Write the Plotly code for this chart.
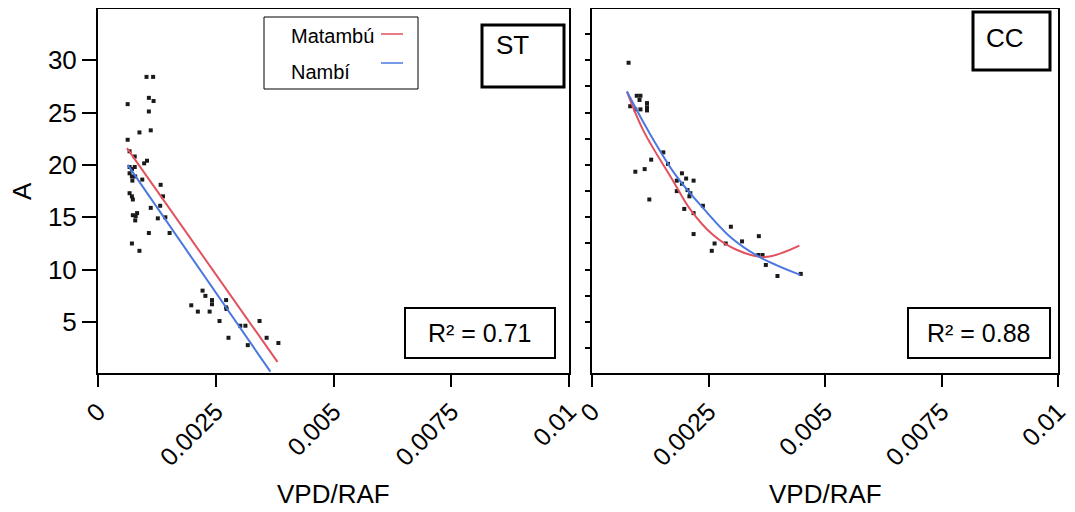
import plotly.graph_objects as go

# ---------------- data ----------------
st_x = [0.00103, 0.00117, 0.00063, 0.00108, 0.00118, 0.00108, 0.00088, 0.00112, 0.00063, 0.00067,
        0.00078, 0.00098, 0.00104, 0.00067, 0.00072, 0.00078, 0.00067, 0.00072, 0.00079, 0.00094,
        0.00073, 0.00133, 0.00067, 0.00072, 0.00074, 0.00138, 0.00112, 0.00132, 0.00074, 0.00083,
        0.00080, 0.00079, 0.00127, 0.00143, 0.00108, 0.00152, 0.00072, 0.00088, 0.00222, 0.00228,
        0.00198, 0.00242, 0.00242, 0.00272, 0.00272, 0.00273, 0.00212, 0.00237, 0.00258, 0.00277,
        0.00302, 0.00313, 0.00343, 0.00318, 0.00358, 0.00383]
st_y = [28.4, 28.4, 25.8, 26.4, 26.1, 25.1, 23.1, 23.3, 22.4, 21.3,
        20.8, 20.15, 20.4, 19.8, 19.6, 19.8, 19.2, 18.9, 18.9, 18.6,
        18.5, 18.1, 17.3, 17.0, 16.7, 17.0, 15.9, 16.1, 15.2, 15.4,
        15.1, 14.7, 14.9, 15.0, 13.5, 13.5, 12.5, 11.8, 8.0, 7.5,
        6.6, 7.1, 6.7, 7.1, 6.4, 6.25, 6.0, 6.0, 5.1, 3.5,
        4.65, 4.65, 5.1, 2.8, 3.5, 3.0]

cc_x = [0.000785, 0.00096, 0.00104, 0.00102, 0.00082, 0.00093, 0.00104, 0.00118, 0.00118, 0.00118,
        0.00153, 0.00127, 0.00163, 0.00093, 0.00113, 0.00193, 0.00202, 0.00218, 0.00182, 0.00193,
        0.00182, 0.00205, 0.00211, 0.00209, 0.00123, 0.00238, 0.00198, 0.00218, 0.00298, 0.00218,
        0.00263, 0.00287, 0.00257, 0.00322, 0.00358, 0.00357, 0.00366, 0.00373, 0.00398, 0.00448]
cc_y = [29.75, 26.6, 26.6, 26.2, 25.6, 25.3, 25.3, 25.9, 25.5, 25.2,
        21.2, 20.5, 20.1, 19.35, 19.6, 19.2, 18.7, 18.5, 18.5, 18.2,
        17.5, 17.6, 17.3, 17.0, 16.7, 16.1, 15.8, 15.4, 14.1, 13.4,
        12.5, 12.5, 11.8, 12.7, 13.2, 11.4, 11.4, 10.45, 9.4, 9.6]

# fitted lines
st_mat_x = [0.000615, 0.00381]
st_mat_y = [21.6, 1.2]
st_nam_x = [0.00063, 0.00366]
st_nam_y = [20.0, 0.27]

cc_mat_x = [0.00075, 0.0011, 0.00175, 0.0021, 0.0026, 0.0031, 0.0037, 0.00445]
cc_mat_y = [27.0, 23.3, 18.4, 15.8, 13.3, 11.9, 11.2, 12.3]
cc_nam_x = [0.00075, 0.0012, 0.0018, 0.0024, 0.0030, 0.0036, 0.00447]
cc_nam_y = [27.0, 23.3, 19.0, 15.8, 13.0, 11.2, 9.5]

series_names = ["Matambú", "Nambí"]
panel_labels = ["ST", "CC"]
r2_labels = ["R² = 0.71", "R² = 0.88"]
x_tickvals = [0, 0.0025, 0.005, 0.0075, 0.01]
x_ticktext = ["0", "0.0025", "0.005", "0.0075", "0.01"]
y_tickvals = [5, 10, 15, 20, 25, 30]
x_title = "VPD/RAF"
y_title = "A"

# ---------------- style ----------------
RED = "#e0525e"
BLUE = "#4a78e0"
FONT = "Liberation Sans, Arial, sans-serif"
# page body adds an 8px offset, so the figure is 8px smaller than the window
W, H = 1067, 504
ML, MR, MT, MB = 90, 15, 1, 139
PW, PH = W - ML - MR, H - MT - MB
# helpers mapping window-pixel positions to paper coords
OX, OY = ML + 8, MT + 8


def px(x):
    return (x - OX) / PW


def py(y):
    return (OY + PH - y) / PH


fig = go.Figure()

mk = dict(symbol="square", size=4, color="#1a1a1a", line=dict(width=0))
fig.add_trace(go.Scatter(x=st_x, y=st_y, mode="markers", marker=mk, xaxis="x", yaxis="y", showlegend=False))
fig.add_trace(go.Scatter(x=st_mat_x, y=st_mat_y, mode="lines", line=dict(color=RED, width=2),
                         xaxis="x", yaxis="y", name=series_names[0], showlegend=False))
fig.add_trace(go.Scatter(x=st_nam_x, y=st_nam_y, mode="lines", line=dict(color=BLUE, width=2),
                         xaxis="x", yaxis="y", name=series_names[1], showlegend=False))

fig.add_trace(go.Scatter(x=cc_x, y=cc_y, mode="markers", marker=mk, xaxis="x2", yaxis="y2", showlegend=False))
fig.add_trace(go.Scatter(x=cc_mat_x, y=cc_mat_y, mode="lines", line=dict(color=RED, width=2, shape="spline"),
                         xaxis="x2", yaxis="y2", name=series_names[0], showlegend=False))
fig.add_trace(go.Scatter(x=cc_nam_x, y=cc_nam_y, mode="lines", line=dict(color=BLUE, width=2, shape="spline"),
                         xaxis="x2", yaxis="y2", name=series_names[1], showlegend=False))

xcommon = dict(range=[0, 0.01], tickvals=x_tickvals, ticktext=x_ticktext, tickangle=-45,
               ticks="outside", ticklen=12, tickwidth=2, tickcolor="black",
               showline=True, linecolor="black", linewidth=2, mirror=True,
               showgrid=False, zeroline=False, automargin=False,
               tickfont=dict(family=FONT, size=25, color="black"))
yrange = [0.14, 34.88]

fig.update_layout(
    width=W, height=H,
    margin=dict(l=ML, r=MR, t=MT, b=MB, autoexpand=False),
    paper_bgcolor="white", plot_bgcolor="white",
    font=dict(family=FONT, color="black"),
    xaxis=dict(domain=[0, px(569)], anchor="y", **xcommon),
    xaxis2=dict(domain=[px(592), px(1058)], anchor="y2", **xcommon),
    yaxis=dict(domain=[0, 1], anchor="x", range=yrange, tickvals=y_tickvals,
               ticks="outside", ticklen=14, tickwidth=2, tickcolor="black",
               showline=True, linecolor="black", linewidth=2, mirror=True,
               showgrid=False, zeroline=False, automargin=False,
               tickfont=dict(family=FONT, size=26, color="black")),
    yaxis2=dict(domain=[0, 1], anchor="x2", range=yrange, tick0=0, dtick=2.5,
                ticks="outside", ticklen=5, tickwidth=2, tickcolor="black", showticklabels=False,
                showline=True, linecolor="black", linewidth=2, mirror=True,
                showgrid=False, zeroline=False, automargin=False),
)

shapes = []
annotations = []


def box(x0, y0, x1, y1, width=2):
    shapes.append(dict(type="rect", xref="paper", yref="paper",
                       x0=px(x0), x1=px(x1), y0=py(y1), y1=py(y0),
                       line=dict(color="black", width=width), fillcolor="white", layer="above"))


def text(x, y, s, size, xanchor="center", yanchor="middle", angle=0):
    annotations.append(dict(xref="paper", yref="paper", x=px(x), y=py(y), text=s,
                            showarrow=False, xanchor=xanchor, yanchor=yanchor, textangle=angle,
                            font=dict(family=FONT, size=size, color="black")))


# legend box
box(264, 17, 418, 89, width=1)
text(289, 36, series_names[0], 20, xanchor="left")
text(289, 72, series_names[1], 20, xanchor="left")
shapes.append(dict(type="line", xref="paper", yref="paper", x0=px(381), x1=px(403), y0=py(34), y1=py(34),
                   line=dict(color=RED, width=1.5)))
shapes.append(dict(type="line", xref="paper", yref="paper", x0=px(381), x1=px(403), y0=py(63), y1=py(63),
                   line=dict(color=BLUE, width=1.5)))

# panel label boxes
box(482, 25, 564, 87, width=3)
text(494, 45, panel_labels[0], 26, xanchor="left")
box(973, 12, 1050, 70, width=3)
text(984, 38, panel_labels[1], 26, xanchor="left")

# R² boxes
box(405, 308, 555, 358, width=2)
text(480, 333, r2_labels[0], 25)
box(908, 308, 1050, 358, width=2)
text(979, 333, r2_labels[1], 25)

# axis titles
text(333, 494, x_title, 26)
text(825, 494, x_title, 26)
text(22, 191, y_title, 26, angle=-90)

fig.update_layout(shapes=shapes, annotations=annotations)
fig.write_html("out.html")
